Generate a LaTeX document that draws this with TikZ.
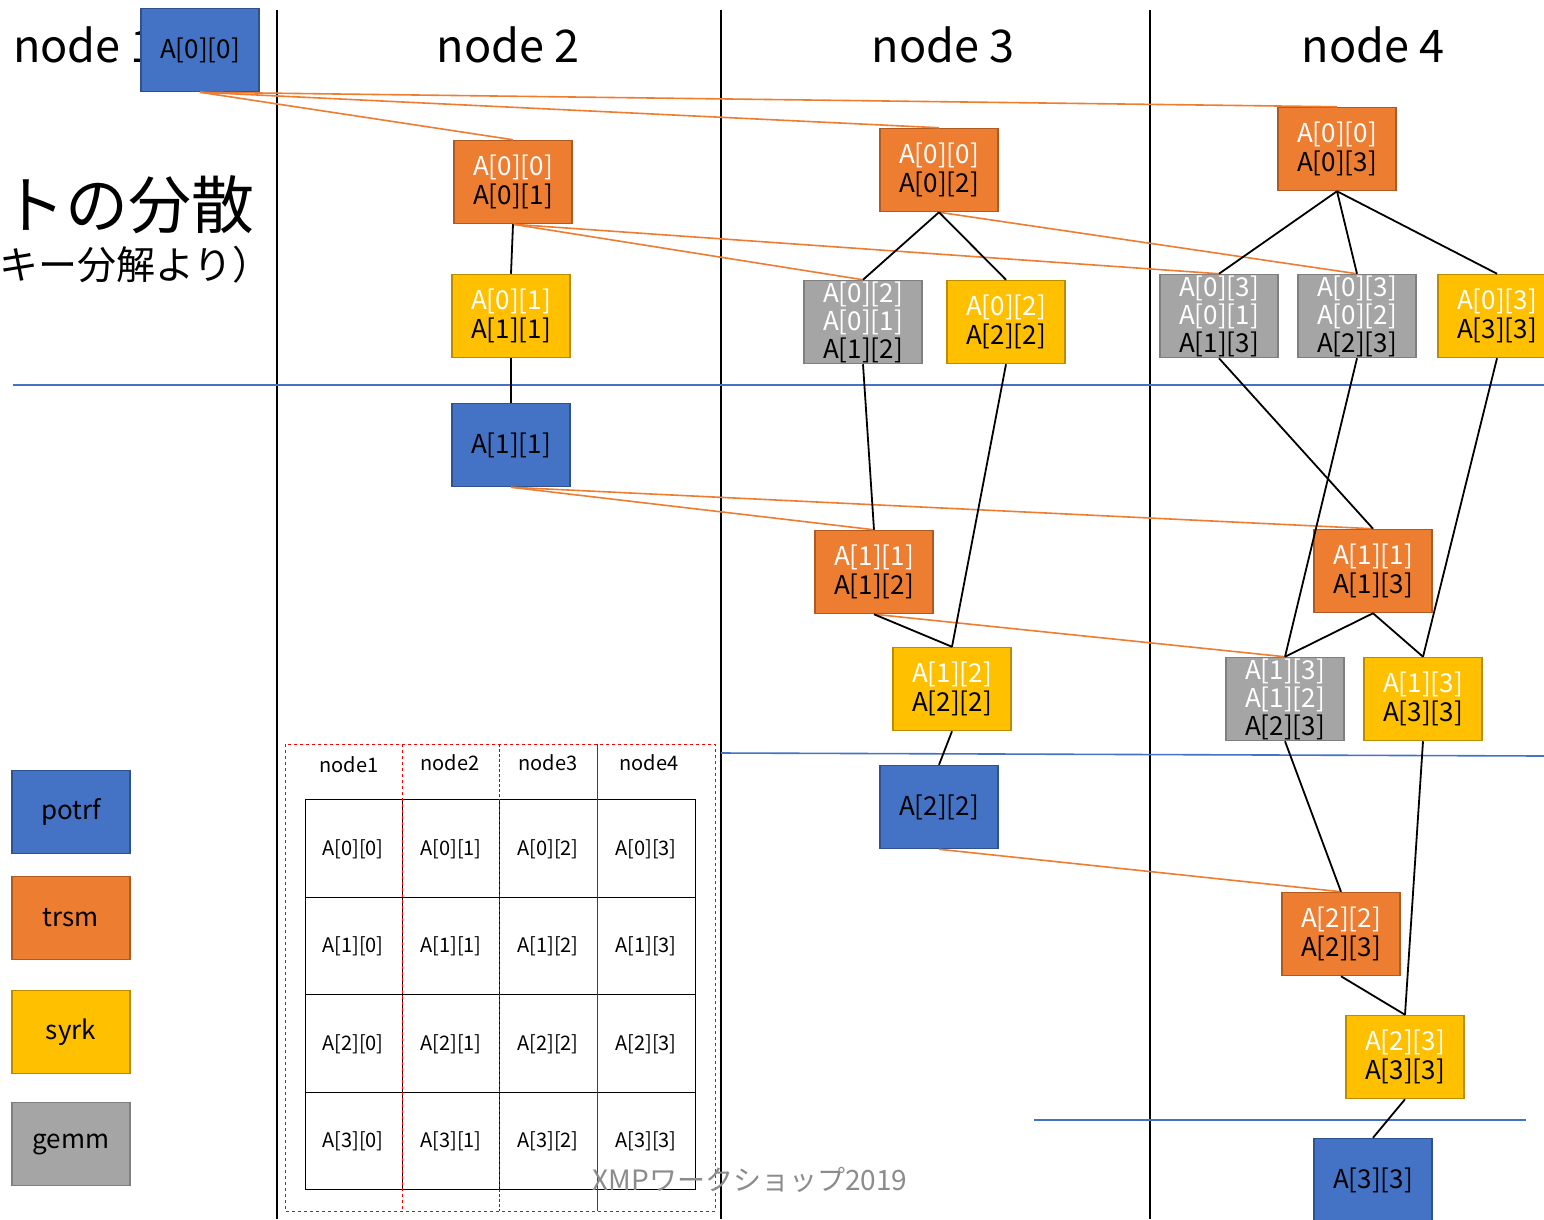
\documentclass[tikz,border=0pt]{standalone}
\usepackage{fontspec}
\setmainfont{Noto Sans CJK JP}
\definecolor{cpot}{HTML}{4472C4}
\definecolor{cpotd}{HTML}{2F528F}
\definecolor{ctrs}{HTML}{ED7D31}
\definecolor{ctrsd}{HTML}{AE5A21}
\definecolor{csyr}{HTML}{FFC000}
\definecolor{csyrd}{HTML}{BC8C00}
\definecolor{cgem}{HTML}{A5A5A5}
\definecolor{cgemd}{HTML}{7F7F7F}
\definecolor{cdep}{HTML}{ED7D31}
\definecolor{csep}{HTML}{4472C4}
\newcommand\wtxt[1]{\textcolor{white}{#1}}
\begin{document}
\begin{tikzpicture}[x=1pt,y=-1pt,
  box/.style={draw, line width=1.5pt, minimum width=118pt, minimum height=83pt, inner sep=0pt, align=center, font=\fontsize{26}{29}\selectfont},
  potrf/.style={box, fill=cpot, draw=cpotd},
  trsm/.style={box, fill=ctrs, draw=ctrsd},
  syrk/.style={box, fill=csyr, draw=csyrd},
  gemm/.style={box, fill=cgem, draw=cgemd, font=\fontsize{26}{28}\selectfont},
  dep/.style={cdep, line width=1.6pt},
  blk/.style={black, line width=1.8pt},
  hdr/.style={anchor=base, font=\fontsize{45}{52}\selectfont},
  cell/.style={font=\fontsize{20}{24}\selectfont},
]
\useasboundingbox (0,0) rectangle (1544,1219);
\fill[white] (0,0) rectangle (1544,1219);

% headers
\node[hdr, anchor=base west, inner sep=0pt] (h1) at (13,62) {node 1};
\node[hdr] (h2) at (508,62) {node 2};
\node[hdr] (h3) at (943,62) {node 3};
\node[hdr] (h4) at (1373,62) {node 4};

% title fragments
\node[anchor=east, font=\fontsize{63}{70}\selectfont, inner sep=0pt] (t1) at (255,205) {トの分散};
\node[anchor=east, font=\fontsize{39}{44}\selectfont, inner sep=0pt] (t2) at (272,265) {キー分解より）};

% column separators
\coordinate (v1a) at (277,10); \coordinate (v1b) at (277,1219);
\coordinate (v2a) at (721,10); \coordinate (v2b) at (721,1219);
\coordinate (v3a) at (1150,10); \coordinate (v3b) at (1150,1219);
\draw[line width=2pt] (v1a) -- (v1b);
\draw[line width=2pt] (v2a) -- (v2b);
\draw[line width=2pt] (v3a) -- (v3b);

% blue horizontal separators
\coordinate (s1a) at (13,385); \coordinate (s1b) at (1544,385);
\coordinate (s2a) at (721,753); \coordinate (s2b) at (1544,756);
\coordinate (s3a) at (1034,1120); \coordinate (s3b) at (1526,1120);
\draw[csep, line width=1.6pt] (s1a) -- (s1b);
\draw[csep, line width=1.6pt] (s2a) -- (s2b);
\draw[csep, line width=1.6pt] (s3a) -- (s3b);

% task nodes
\node[potrf] (a00) at (200,50) {A[0][0]};
\node[trsm] (n2t) at (513,182) {\wtxt{A[0][0]}\\A[0][1]};
\node[syrk] (n2s) at (511,316) {\wtxt{A[0][1]}\\A[1][1]};
\node[potrf] (a11) at (511,445) {A[1][1]};

\node[trsm] (n3t1) at (939,170) {\wtxt{A[0][0]}\\A[0][2]};
\node[gemm] (n3g) at (863,322) {\wtxt{A[0][2]}\\\wtxt{A[0][1]}\\A[1][2]};
\node[syrk] (n3s1) at (1006,322) {\wtxt{A[0][2]}\\A[2][2]};
\node[trsm] (n3t2) at (874,572) {\wtxt{A[1][1]}\\A[1][2]};
\node[syrk] (n3s2) at (952,689) {\wtxt{A[1][2]}\\A[2][2]};
\node[potrf] (a22) at (939,807) {A[2][2]};

\node[trsm] (n4t1) at (1337,149) {\wtxt{A[0][0]}\\A[0][3]};
\node[gemm] (n4g1) at (1219,316) {\wtxt{A[0][3]}\\\wtxt{A[0][1]}\\A[1][3]};
\node[gemm] (n4g2) at (1357,316) {\wtxt{A[0][3]}\\\wtxt{A[0][2]}\\A[2][3]};
\node[syrk] (n4s1) at (1497,316) {\wtxt{A[0][3]}\\A[3][3]};
\node[trsm] (n4t2) at (1373,571) {\wtxt{A[1][1]}\\A[1][3]};
\node[gemm] (n4g3) at (1285,699) {\wtxt{A[1][3]}\\\wtxt{A[1][2]}\\A[2][3]};
\node[syrk] (n4s2) at (1423,699) {\wtxt{A[1][3]}\\A[3][3]};
\node[trsm] (n4t3) at (1341,934) {\wtxt{A[2][2]}\\A[2][3]};
\node[syrk] (n4s3) at (1405,1057) {\wtxt{A[2][3]}\\A[3][3]};
\node[potrf] (a33) at (1373,1180) {A[3][3]};

% orange dependencies
\draw[dep] (a00.south) -- (n2t.north);
\draw[dep] (a00.south) -- (n3t1.north);
\draw[dep] (a00.south) -- (n4t1.north);
\draw[dep] (n2t.south) -- (n3g.north);
\draw[dep] (n2t.south) -- (n4g1.north);
\draw[dep] (n3t1.south) -- (n4g2.north);
\draw[dep] (a11.south) -- (n3t2.north);
\draw[dep] (a11.south) -- (n4t2.north);
\draw[dep] (n3t2.south) -- (n4g3.north);
\draw[dep] (a22.south) -- (n4t3.north);

% black dependencies
\draw[blk] (n2t.south) -- (n2s.north);
\draw[blk] (n2s.south) -- (a11.north);
\draw[blk] (n3t1.south) -- (n3g.north);
\draw[blk] (n3t1.south) -- (n3s1.north);
\draw[blk] (n4t1.south) -- (n4g1.north);
\draw[blk] (n4t1.south) -- (n4g2.north);
\draw[blk] (n4t1.south) -- (n4s1.north);
\draw[blk] (n3g.south) -- (n3t2.north);
\draw[blk] (n3s1.south) -- (n3s2.north);
\draw[blk] (n3t2.south) -- (n3s2.north);
\draw[blk] (n4g1.south) -- (n4t2.north);
\draw[blk] (n4g2.south) -- (n4g3.north);
\draw[blk] (n4s1.south) -- (n4s2.north);
\draw[blk] (n4t2.south) -- (n4g3.north);
\draw[blk] (n4t2.south) -- (n4s2.north);
\draw[blk] (n3s2.south) -- (a22.north);
\draw[blk] (n4g3.south) -- (n4t3.north);
\draw[blk] (n4s2.south) -- (n4s3.north);
\draw[blk] (n4t3.south) -- (n4s3.north);
\draw[blk] (n4s3.south) -- (a33.north);

% legend
\node[potrf] (lp) at (71,812) {potrf};
\node[trsm] (lt) at (71,918) {trsm};
\node[syrk] (ls) at (71,1032) {syrk};
\node[gemm] (lg) at (71,1144) {gemm};

% distribution table
\draw[line width=1pt] (305,799) rectangle (695,1189);
\foreach \yy in {897,994,1092} \draw[line width=1pt] (305,\yy) -- (695,\yy);
\foreach \xx in {402,499,597} \draw[line width=1pt] (\xx,799) -- (\xx,1189);
\draw[red, dashed, line width=1pt] (285,744) rectangle (715,1211);
\draw[red, dashed, line width=1pt] (402,744) -- (402,1211);
\draw[red!80!black, densely dashed, line width=1pt] (499,744) -- (499,1211);
\draw[red!85!black, line width=1pt] (597,744) -- (597,1211);
\node[cell] (c1) at (349,765) {node1};
\node[cell] (c2) at (450,763) {node2};
\node[cell] (c3) at (548,763) {node3};
\node[cell] (c4) at (649,763) {node4};
\foreach \r/\yy in {0/849,1/946,2/1044,3/1141}
  \foreach \c/\xx in {0/353,1/451,2/548,3/646}
    \node[cell] (m\r\c) at (\xx,\yy) {A[\r][\c]};

% watermark
\node[text=black!45, font=\fontsize{28}{32}\selectfont] (wm) at (750,1180) {XMPワークショップ2019};
\end{tikzpicture}
\end{document}
